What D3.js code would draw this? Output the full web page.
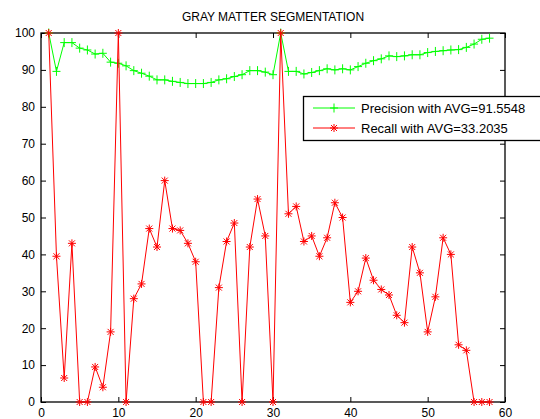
<!DOCTYPE html>
<html><head><meta charset="utf-8">
<script src="https://cdn.jsdelivr.net/npm/d3@7"></script>
<style>
body{margin:0;background:#fff;}
text{font-family:"Liberation Sans",Arial,sans-serif;}
</style></head>
<body>
<svg id="chart" width="540" height="419"></svg>
<script>
const titleText = "GRAY MATTER SEGMENTATION";
const xIndex = d3.range(1, 59);
const precision = [100, 89.6, 97.4, 97.4, 95.9, 95.4, 94.3, 94.5, 92.1, 91.8,
  91.1, 89.8, 89.1, 88.3, 87.3, 87.3, 86.9, 86.6, 86.3, 86.3,
  86.3, 86.6, 87.3, 87.6, 88.2, 88.7, 89.8, 89.8, 89.4, 88.7,
  100, 89.6, 89.6, 88.9, 89.3, 89.8, 90.3, 90.0, 90.3, 90.0,
  90.9, 91.8, 92.5, 93.0, 93.8, 93.6, 93.8, 94.1, 94.1, 94.7,
  95.0, 95.2, 95.4, 95.5, 96.1, 97.0, 98.3, 98.6];
const recall = [100, 39.5, 6.5, 43, 0, 0, 9.5, 4, 19, 100,
  0, 28, 32, 47, 42, 60, 47, 46.5, 43, 38,
  0, 0, 31, 43.5, 48.5, 0, 42, 55, 45, 0,
  100, 51, 53, 43.5, 45, 39.5, 44.5, 54, 50, 27,
  30, 39, 33, 30.5, 29, 23.5, 21.5, 42, 35, 19,
  28.5, 44.5, 40, 15.5, 14, 0, 0, 0];
const xTicks = [0, 10, 20, 30, 40, 50, 60];
const yTicks = [0, 10, 20, 30, 40, 50, 60, 70, 80, 90, 100];
const legendLabels = ["Precision with AVG=91.5548", "Recall with AVG=33.2035"];
const seriesColors = ["#00ff00", "#ff0000"];

const svg = d3.select("#chart");
const L = 41, R = 505, T = 33, B = 402;
const x = d3.scaleLinear().domain([0, 60]).range([L, R]);
const y = d3.scaleLinear().domain([0, 100]).range([B, T]);

svg.append("rect").attr("width", 540).attr("height", 419).attr("fill", "#fff");

// title
svg.append("text").attr("x", (L + R) / 2).attr("y", 21).attr("text-anchor", "middle")
  .attr("font-size", 12).text(titleText);

function styleAxis(g, labels) {
  g.select(".domain").remove();
  g.selectAll(".tick line").attr("stroke", "#000").attr("stroke-width", 1);
  g.selectAll(".tick text").attr("font-size", 12).attr("fill", "#000");
  if (!labels) g.selectAll(".tick text").remove();
}
svg.append("g").attr("transform", `translate(0,${B})`)
  .call(d3.axisBottom(x).tickValues(xTicks).tickSizeInner(-5).tickSizeOuter(0).tickPadding(6))
  .call(g => styleAxis(g, true));
svg.append("g").attr("transform", `translate(0,${T})`)
  .call(d3.axisTop(x).tickValues(xTicks).tickSizeInner(-5).tickSizeOuter(0))
  .call(g => styleAxis(g, false));
svg.append("g").attr("transform", `translate(${L},0)`)
  .call(d3.axisLeft(y).tickValues(yTicks).tickSizeInner(-5).tickSizeOuter(0).tickPadding(6))
  .call(g => styleAxis(g, true));
svg.append("g").attr("transform", `translate(${R},0)`)
  .call(d3.axisRight(y).tickValues(yTicks).tickSizeInner(-5).tickSizeOuter(0))
  .call(g => styleAxis(g, false));

svg.append("rect").attr("x", L).attr("y", T).attr("width", R - L).attr("height", B - T)
  .attr("fill", "none").attr("stroke", "#000").attr("stroke-width", 1.3);

const plusPath = "M-4,0H4M0,-4.5V4.5";
const starPath = "M-4,0H4M0,-4V4M-3,-3L3,3M-3,3L3,-3";
const series = [
  {vals: precision, color: seriesColors[0], marker: plusPath},
  {vals: recall, color: seriesColors[1], marker: starPath}
];
const line = d3.line().x((d, i) => x(xIndex[i])).y(d => y(d));
series.forEach(s => {
  svg.append("path").datum(s.vals).attr("d", line).attr("fill", "none")
    .attr("stroke", s.color).attr("stroke-width", 1);
  svg.append("g").selectAll("path").data(s.vals).join("path")
    .attr("transform", (d, i) => `translate(${x(xIndex[i])},${y(d)})`)
    .attr("d", s.marker).attr("fill", "none").attr("stroke", s.color).attr("stroke-width", 1);
});

// legend
const lg = svg.append("g");
lg.append("rect").attr("x", 303.5).attr("y", 96.5).attr("width", 240).attr("height", 44)
  .attr("fill", "#fff").attr("stroke", "#000").attr("stroke-width", 1.3);
legendLabels.forEach((lab, i) => {
  const yy = 108 + i * 20;
  lg.append("line").attr("x1", 313).attr("x2", 355).attr("y1", yy).attr("y2", yy)
    .attr("stroke", series[i].color).attr("stroke-width", 1);
  lg.append("path").attr("transform", `translate(334,${yy})`).attr("d", series[i].marker)
    .attr("fill", "none").attr("stroke", series[i].color);
  lg.append("text").attr("x", 361).attr("y", yy + 4.5).attr("font-size", 13).text(lab);
});
</script>
</body></html>
